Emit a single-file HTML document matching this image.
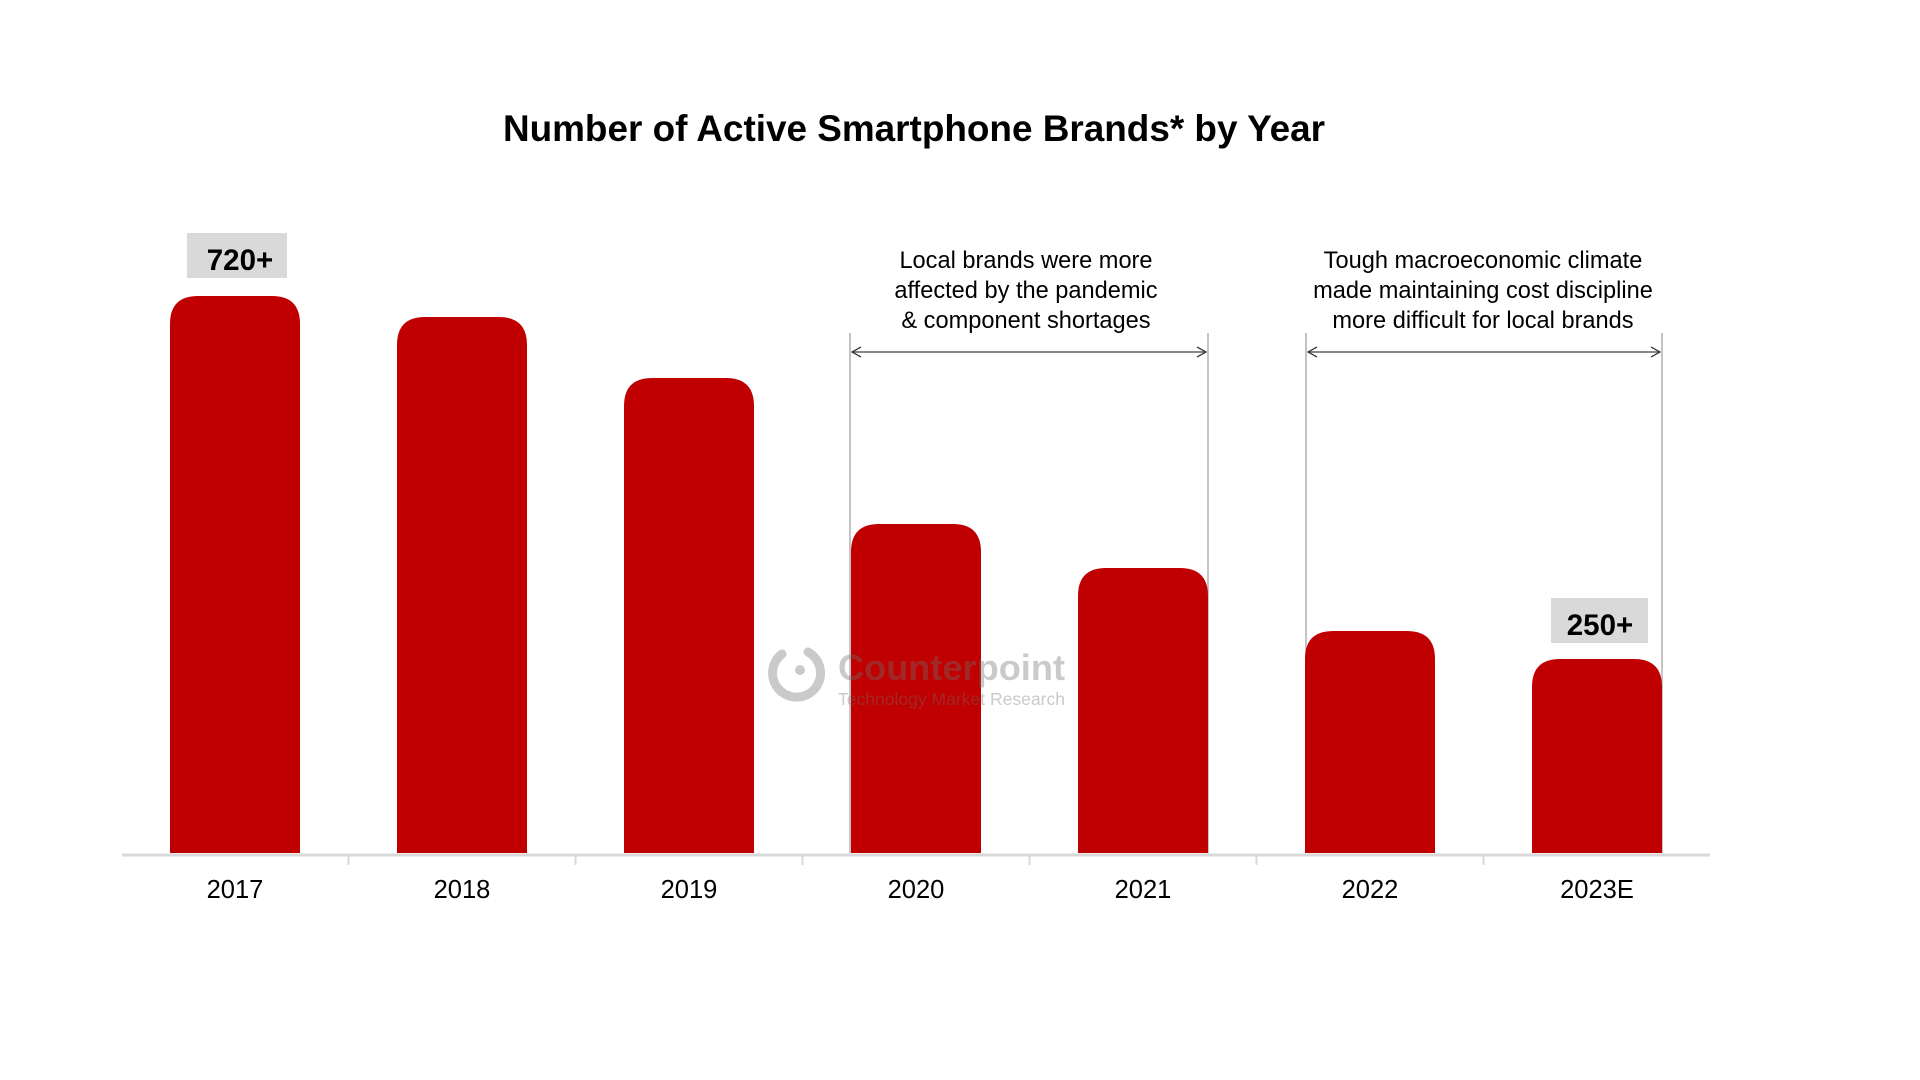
<!DOCTYPE html>
<html>
<head>
<meta charset="utf-8">
<style>
  html,body{margin:0;padding:0;background:#fff;}
  svg{display:block;}
  text{font-family:"Liberation Sans", Arial, sans-serif;}
</style>
</head>
<body>
<svg width="1920" height="1080" viewBox="0 0 1920 1080" xmlns="http://www.w3.org/2000/svg">
  <rect width="1920" height="1080" fill="#fff"/>

  <!-- Title -->
  <text x="914" y="141" text-anchor="middle" font-size="36.9" font-weight="bold" fill="#000">Number of Active Smartphone Brands* by Year</text>

  <!-- bracket vertical lines -->
  <g stroke="#b0b0b0" stroke-width="1.5">
    <line x1="850" y1="333" x2="850" y2="853"/>
    <line x1="1208" y1="333" x2="1208" y2="853"/>
    <line x1="1306" y1="333" x2="1306" y2="853"/>
    <line x1="1662" y1="333" x2="1662" y2="853"/>
  </g>

  <!-- Bars -->
  <g fill="#C00000">
    <path d="M170,853 V324 Q170,296 198,296 H272 Q300,296 300,324 V853 Z"/>
    <path d="M397,853 V345 Q397,317 425,317 H499 Q527,317 527,345 V853 Z"/>
    <path d="M624,853 V406 Q624,378 652,378 H726 Q754,378 754,406 V853 Z"/>
    <path d="M851,853 V552 Q851,524 879,524 H953 Q981,524 981,552 V853 Z"/>
    <path d="M1078,853 V596 Q1078,568 1106,568 H1180 Q1208,568 1208,596 V853 Z"/>
    <path d="M1305,853 V659 Q1305,631 1333,631 H1407 Q1435,631 1435,659 V853 Z"/>
    <path d="M1532,853 V687 Q1532,659 1560,659 H1634 Q1662,659 1662,687 V853 Z"/>
  </g>

  <!-- Watermark -->
  <g opacity="0.36">
    <path d="M808,652 A24,24 0 1,1 782,654" fill="none" stroke="#6e6e6e" stroke-width="9" stroke-linecap="round"/>
    <circle cx="800" cy="670" r="5" fill="#6e6e6e"/>
    <text x="838" y="680" font-size="36" font-weight="bold" fill="#6e6e6e" textLength="227" lengthAdjust="spacingAndGlyphs">Counterpoint</text>
    <text x="838" y="705" font-size="17.4" fill="#6e6e6e" textLength="227" lengthAdjust="spacingAndGlyphs">Technology Market Research</text>
  </g>

  <!-- Axis -->
  <line x1="122" y1="855" x2="1710" y2="855" stroke="#d9d9d9" stroke-width="3"/>
  <g stroke="#d9d9d9" stroke-width="2">
    <line x1="348.5" y1="855" x2="348.5" y2="865"/>
    <line x1="575.5" y1="855" x2="575.5" y2="865"/>
    <line x1="802.5" y1="855" x2="802.5" y2="865"/>
    <line x1="1029.5" y1="855" x2="1029.5" y2="865"/>
    <line x1="1256.5" y1="855" x2="1256.5" y2="865"/>
    <line x1="1483.5" y1="855" x2="1483.5" y2="865"/>
  </g>

  <!-- Year labels -->
  <g font-size="25.5" fill="#000" text-anchor="middle">
    <text x="235" y="898">2017</text>
    <text x="462" y="898">2018</text>
    <text x="689" y="898">2019</text>
    <text x="916" y="898">2020</text>
    <text x="1143" y="898">2021</text>
    <text x="1370" y="898">2022</text>
    <text x="1597" y="898">2023E</text>
  </g>

  <!-- Value labels -->
  <rect x="187" y="233" width="100" height="45" fill="#d9d9d9"/>
  <text x="240" y="270" text-anchor="middle" font-size="29.5" font-weight="bold" fill="#000">720+</text>
  <rect x="1551" y="598" width="97" height="45" fill="#d9d9d9"/>
  <text x="1600" y="635" text-anchor="middle" font-size="29.5" font-weight="bold" fill="#000">250+</text>

  <!-- Annotations -->
  <g font-size="23.6" fill="#000" text-anchor="middle">
    <text x="1026" y="268">Local brands were more</text>
    <text x="1026" y="298">affected by the pandemic</text>
    <text x="1026" y="328">&amp; component shortages</text>
    <text x="1483" y="268">Tough macroeconomic climate</text>
    <text x="1483" y="298">made maintaining cost discipline</text>
    <text x="1483" y="328">more difficult for local brands</text>
  </g>

  <!-- Arrows -->
  <g stroke="#404040" stroke-width="1.3" fill="none">
    <line x1="852" y1="352" x2="1206" y2="352"/>
    <polyline points="861,347 852,352 861,357"/>
    <polyline points="1197,347 1206,352 1197,357"/>
    <line x1="1308" y1="352" x2="1660" y2="352"/>
    <polyline points="1317,347 1308,352 1317,357"/>
    <polyline points="1651,347 1660,352 1651,357"/>
  </g>
</svg>
</body>
</html>
